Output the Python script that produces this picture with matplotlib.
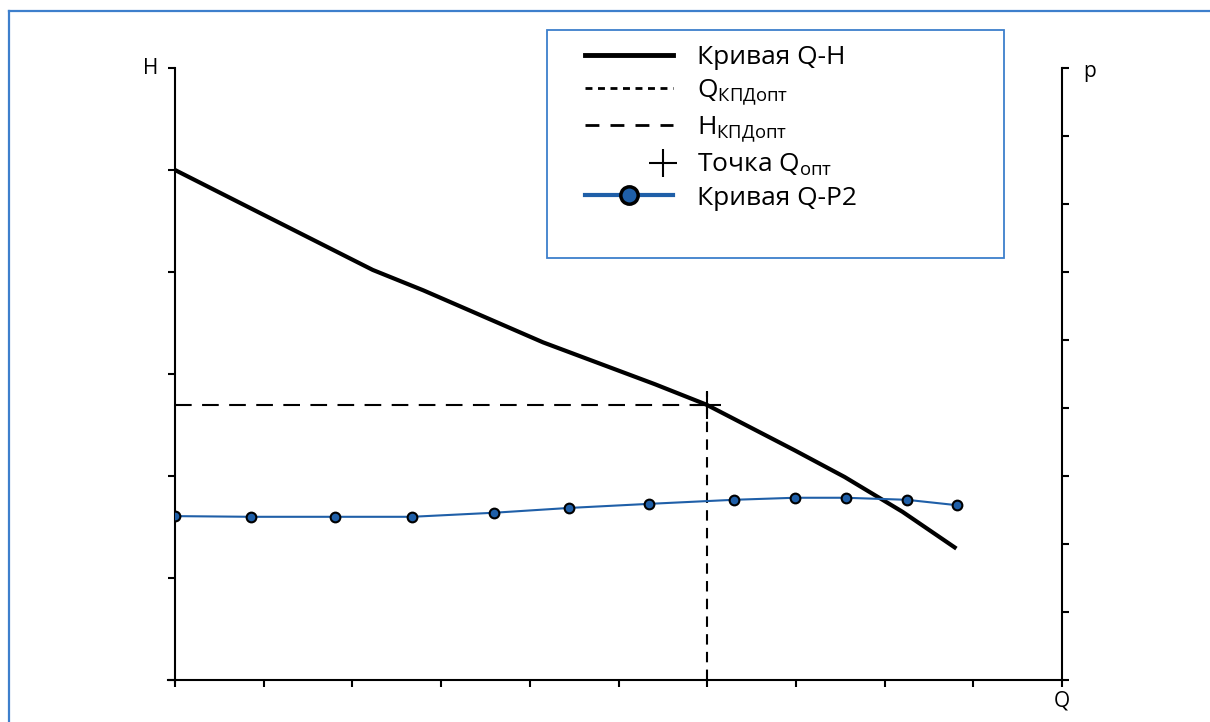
import numpy as np
import matplotlib.pyplot as plt
from matplotlib.lines import Line2D
from matplotlib.legend_handler import HandlerLine2D
from matplotlib.patches import Rectangle

plt.rcParams['font.family'] = ['Open Sans', 'DejaVu Sans']
plt.rcParams['mathtext.fontset'] = 'custom'
plt.rcParams['mathtext.rm'] = 'Open Sans'

# Q-H curve
q_h = [0.0, 1.0, 2.23, 2.8, 4.15, 5.41, 5.99, 6.99, 7.55, 8.2, 8.79]
h = [5.0, 4.56, 4.02, 3.82, 3.31, 2.90, 2.70, 2.25, 1.99, 1.65, 1.30]

# Q-P2 curve (right axis)
q_p = [0.0, 0.857, 1.80, 2.67, 3.60, 4.44, 5.34, 6.30, 6.99, 7.56, 8.25, 8.82]
p2 = [2.41, 2.40, 2.40, 2.40, 2.46, 2.53, 2.59, 2.65, 2.68, 2.68, 2.65, 2.57]

q_opt = 6.0
h_opt = 2.7

blue = '#1f5fa8'
frame_blue = '#3d7fcc'

fig = plt.figure(figsize=(12.1, 7.22), dpi=100)
ax = fig.add_axes([175/1210, 1-680/722, 887/1210, 612/722])
ax2 = ax.twinx()

ax.set_xlim(0, 10)
ax.set_ylim(0, 6)
ax2.set_ylim(0, 9)

l_qh, = ax.plot(q_h, h, color='black', lw=3, solid_joinstyle='miter', zorder=3)
l_q, = ax.plot([q_opt, q_opt], [0, h_opt + 0.12], color='black', lw=1.5,
               dashes=(5, 3.5))
l_h, = ax.plot([0, q_opt + 0.1], [h_opt, h_opt], color='black', lw=1.5,
               dashes=(8, 5))
l_pt, = ax.plot([q_opt], [h_opt], marker='+', ms=20, mew=1.5, color='black',
                ls='none')
l_p2, = ax2.plot(q_p, p2, color=blue, lw=1.5, marker='o', ms=7,
                 mfc=blue, mec='black', mew=1.5, zorder=4)

ax.set_xticks(np.arange(0, 11, 1))
ax.set_yticks(np.arange(0, 7, 1))
ax2.set_yticks(np.arange(0, 10, 1))
for a in (ax, ax2):
    a.tick_params(length=5, width=1.5, labelleft=False, labelright=False,
                  labelbottom=False)
    a.spines['top'].set_visible(False)
    for s in a.spines.values():
        s.set_linewidth(1.5)
ax.spines['right'].set_visible(False)
ax.spines['left'].set_bounds(-0.02, 6)
ax.spines['bottom'].set_bounds(-0.08, 10)
ax2.spines['left'].set_visible(False)
ax2.spines['bottom'].set_visible(False)
ax2.spines['right'].set_bounds(0, 9)

ax.text(-0.019, 1.0, 'H', transform=ax.transAxes, ha='right', va='center',
        fontsize=15)
ax2.text(1.024, 0.995, 'p', transform=ax.transAxes, ha='left', va='center',
         fontsize=15)
ax.text(1.0, -0.034, 'Q', transform=ax.transAxes, ha='center', va='center',
        fontsize=15)


class RightMarker(HandlerLine2D):
    def get_xdata(self, legend, xdescent, ydescent, width, height, fontsize):
        x = np.array([-xdescent + width * 0.88])
        return x, x


labels = ['Кривая Q-H', r'Q$_{\mathregular{КПДопт}}$',
          r'H$_{\mathregular{КПДопт}}$', r'Точка Q$_{\mathregular{опт}}$',
          'Кривая Q-P2']
h_qh = Line2D([], [], color='black', lw=3.5)
h_q = Line2D([], [], color='black', lw=2, dashes=(2.5, 2))
h_h = Line2D([], [], color='black', lw=2, dashes=(5, 4))
h_p2 = Line2D([], [], color=blue, lw=3, marker='o', ms=12.5, mfc=blue,
              mec='black', mew=2.5)
leg = fig.legend([h_qh, h_q, h_h, l_pt, h_p2], labels,
                 loc='upper left', bbox_to_anchor=(585/1210, 1-45/722),
                 frameon=False, fontsize=19, handlelength=3.35,
                 handletextpad=0.9, labelspacing=0.28, borderpad=0,
                 borderaxespad=0, numpoints=1,
                 handler_map={l_pt: RightMarker(numpoints=1)})

fig.patches.append(Rectangle((547/1210, 1-258/722), 457/1210, 228/722,
                             transform=fig.transFigure, fill=False,
                             edgecolor=frame_blue, lw=1.3))
fig.lines.append(Line2D([8.5/1210, 8.5/1210], [0, 1-10.5/722],
                        transform=fig.transFigure, color=frame_blue, lw=1.6))
fig.lines.append(Line2D([8.5/1210, 1], [1-10.5/722, 1-10.5/722],
                        transform=fig.transFigure, color=frame_blue, lw=1.6))

fig.savefig('out.png', dpi=100)
